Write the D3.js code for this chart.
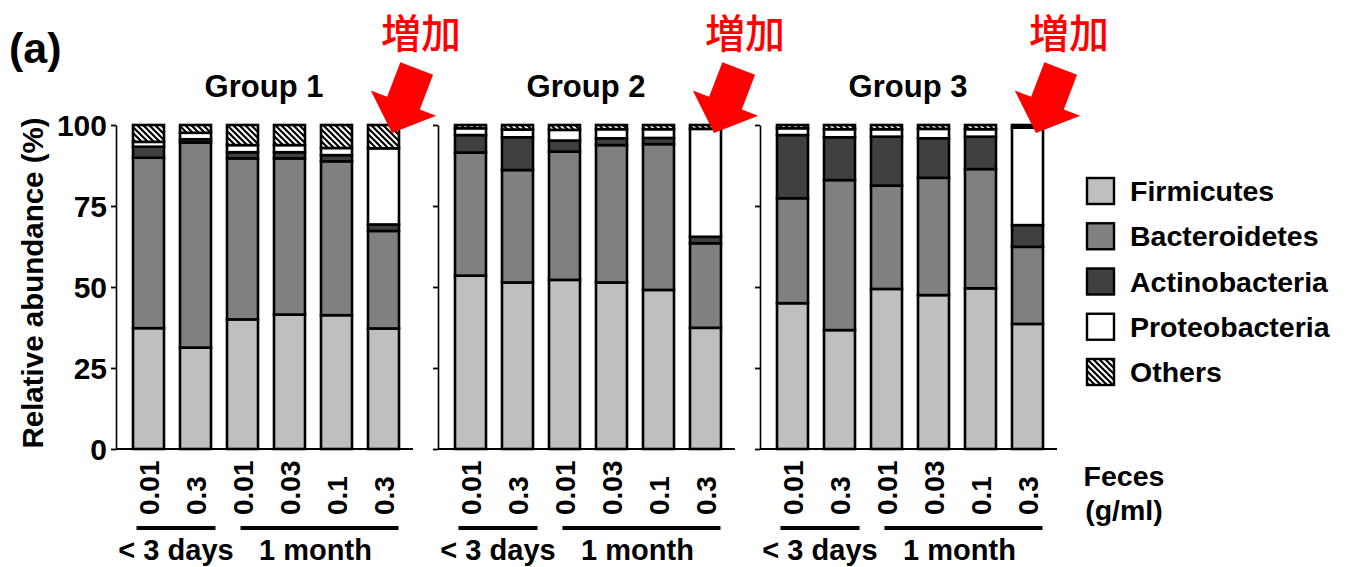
<!DOCTYPE html>
<html>
<head>
<meta charset="utf-8">
<script src="https://cdn.jsdelivr.net/npm/d3@7"></script>
<style>
  html, body { margin: 0; padding: 0; background: #fff; }
  svg { display: block; }
  text { font-family: "Liberation Sans", Arial, Helvetica, sans-serif; font-weight: bold; fill: #000; }
  .cjk { font-family: "Noto Sans CJK JP", "Noto Sans CJK SC", sans-serif; font-weight: 500; fill: #ff0000; }
</style>
</head>
<body>
<svg id="chart" width="1351" height="567"></svg>
<script>
// Phylum-level composition of feces inocula, three donor groups
const phyla = ["Firmicutes", "Bacteroidetes", "Actinobacteria", "Proteobacteria", "Others"];
const groups = ["Group 1", "Group 2", "Group 3"];
const doses = ["0.01", "0.3", "0.01", "0.03", "0.1", "0.3"];
const ageLabels = ["< 3 days", "1 month"];
const ageFirstBar = [0, 2];
const ageLastBar = [1, 5];
const yTicks = [0, 25, 50, 75, 100];
const increaseLabel = "増加";

// Relative abundance (%) per group, one value per bar
const firmicutes = [
  [37.3, 31.3, 40.0, 41.5, 41.3, 37.2],
  [53.5, 51.4, 52.2, 51.4, 49.1, 37.4],
  [45.0, 36.7, 49.4, 47.5, 49.6, 38.6]
];
const bacteroidetes = [
  [52.6, 63.3, 49.7, 48.2, 47.5, 30.1],
  [38.0, 34.7, 39.6, 42.4, 45.0, 26.1],
  [32.4, 46.3, 31.9, 36.2, 36.8, 23.8]
];
const actinobacteria = [
  [3.4, 1.0, 1.9, 1.9, 1.9, 2.0],
  [5.4, 10.1, 3.4, 2.1, 1.9, 2.0],
  [19.5, 13.2, 15.1, 12.2, 10.0, 6.7]
];
const proteobacteria = [
  [1.5, 2.0, 2.2, 2.2, 2.2, 23.5],
  [2.1, 2.4, 3.3, 2.8, 2.7, 33.3],
  [2.1, 2.5, 2.3, 2.9, 2.3, 30.1]
];
const others = [
  [5.2, 2.4, 6.2, 6.2, 7.1, 7.2],
  [1.0, 1.4, 1.5, 1.3, 1.3, 1.2],
  [1.0, 1.3, 1.3, 1.2, 1.3, 0.8]
];

const fills = {
  Firmicutes: "#bfbfbf",
  Bacteroidetes: "#808080",
  Actinobacteria: "#404040",
  Proteobacteria: "#ffffff",
  Others: "url(#hatch)"
};

const svg = d3.select("#chart");

// hatch used for the "Others" segments
const defs = svg.append("defs");
const pat = defs.append("pattern")
  .attr("id", "hatch").attr("patternUnits", "userSpaceOnUse")
  .attr("width", 6).attr("height", 6);
pat.append("rect").attr("width", 6).attr("height", 6).attr("fill", "#fff");
pat.append("path")
  .attr("d", "M0,0 L6,6 M-3,3 L3,9 M3,-3 L9,3")
  .attr("stroke", "#000").attr("stroke-width", 2.2);

const y = d3.scaleLinear().domain([0, 100]).range([449, 125]);

const stack = d3.stack().keys(phyla);

// panel label
svg.append("text").attr("x", 9).attr("y", 63)
  .style("font-size", "43px").text("(a)");

// y-axis title
svg.append("text")
  .attr("transform", `translate(43,283) rotate(-90)`)
  .attr("text-anchor", "middle")
  .style("font-size", "29.5px")
  .text("Relative abundance (%)");

groups.forEach((g, gi) => {
  const x0 = 116 + gi * 322;
  const x = d3.scaleBand()
    .domain(d3.range(doses.length))
    .range([x0 + 17, x0 + 17 + 266])
    .paddingInner(16 / 47)
    .paddingOuter(0);

  const rows = doses.map((d, i) => ({
    Firmicutes: firmicutes[gi][i],
    Bacteroidetes: bacteroidetes[gi][i],
    Actinobacteria: actinobacteria[gi][i],
    Proteobacteria: proteobacteria[gi][i],
    Others: others[gi][i]
  }));
  const series = stack(rows);

  const panel = svg.append("g");

  // y axis
  const axis = d3.axisLeft(y).tickValues(yTicks).tickSize(5).tickSizeOuter(0)
    .tickFormat(gi === 0 ? d3.format("d") : () => "");
  const ax = panel.append("g").attr("transform", `translate(${x0},0)`).call(axis);
  ax.select(".domain").attr("stroke", "#000").attr("stroke-width", 1.6);
  ax.selectAll(".tick line").attr("stroke", "#000").attr("stroke-width", 1.8);
  ax.selectAll(".tick text")
    .attr("x", -9).attr("dy", "0.36em")
    .style("font-size", "30px").style("font-family", "\"Liberation Sans\", Arial, sans-serif")
    .style("font-weight", "bold").attr("fill", "#000");

  // baseline
  panel.append("line")
    .attr("x1", x0).attr("x2", x0 + 297)
    .attr("y1", y(0)).attr("y2", y(0))
    .attr("stroke", "#000").attr("stroke-width", 1.8);

  // stacked bars
  panel.selectAll("g.layer").data(series).join("g")
    .attr("class", "layer")
    .attr("fill", s => fills[s.key])
    .selectAll("rect").data(s => s).join("rect")
    .attr("x", (d, i) => x(i))
    .attr("width", x.bandwidth())
    .attr("y", d => y(d[1]))
    .attr("height", d => y(d[0]) - y(d[1]))
    .attr("stroke", "#000").attr("stroke-width", 2.6);

  // group title
  const barsMid = (x(0) + x(doses.length - 1) + x.bandwidth()) / 2;
  panel.append("text")
    .attr("x", barsMid - 2).attr("y", 97)
    .attr("text-anchor", "middle")
    .style("font-size", "31px").text(g);

  // dose labels
  panel.selectAll("text.dose").data(doses).join("text")
    .attr("class", "dose")
    .attr("transform", (d, i) => `translate(${x(i) + x.bandwidth() / 2},515) rotate(-90)`)
    .attr("dy", "0.36em")
    .style("font-size", "28px")
    .text(d => d);

  // age brackets
  ageLabels.forEach((lab, ai) => {
    const cFirst = x(ageFirstBar[ai]) + x.bandwidth() / 2;
    const cLast = x(ageLastBar[ai]) + x.bandwidth() / 2;
    const lx1 = cFirst - (ai === 0 ? 12 : 2);
    const lx2 = cLast + (ai === 0 ? 20 : 15);
    panel.append("line")
      .attr("x1", lx1).attr("x2", lx2).attr("y1", 528).attr("y2", 528)
      .attr("stroke", "#000").attr("stroke-width", 4);
    panel.append("text")
      .attr("x", (lx1 + lx2) / 2 - (ai === 1 ? 4 : 0)).attr("y", 560)
      .attr("text-anchor", "middle")
      .style("font-size", "29px").text(lab);
  });

  // red arrow pointing at the last bar
  const tipX = x(doses.length - 1) + x.bandwidth() - 7;
  const tipY = 133;
  const arrowPts = [[0, 0], [35, -32], [17.5, -32], [17.5, -69], [-17.5, -69], [-17.5, -32], [-35, -32]];
  panel.append("path")
    .attr("d", d3.line()(arrowPts) + "Z")
    .attr("transform", `translate(${tipX},${tipY}) rotate(21)`)
    .attr("fill", "#ff0000");
  panel.append("text")
    .attr("class", "cjk")
    .attr("x", tipX - 11 + gi * 2).attr("y", 48)
    .style("font-size", "40px")
    .text(increaseLabel);
});

// legend
const legend = svg.append("g").attr("transform", "translate(1087,178)");
const li = legend.selectAll("g").data(phyla).join("g")
  .attr("transform", (d, i) => `translate(0,${i * 45.25})`);
li.append("rect")
  .attr("width", 27).attr("height", 26)
  .attr("fill", d => fills[d])
  .attr("stroke", "#000").attr("stroke-width", 2.4);
li.append("text")
  .attr("x", 43).attr("y", 23)
  .style("font-size", "28.5px")
  .text(d => d);

// dose unit caption
svg.append("text").attr("x", 1124).attr("y", 486)
  .attr("text-anchor", "middle").style("font-size", "28.5px").text("Feces");
svg.append("text").attr("x", 1124).attr("y", 520)
  .attr("text-anchor", "middle").style("font-size", "28.5px").text("(g/ml)");
</script>
</body>
</html>
